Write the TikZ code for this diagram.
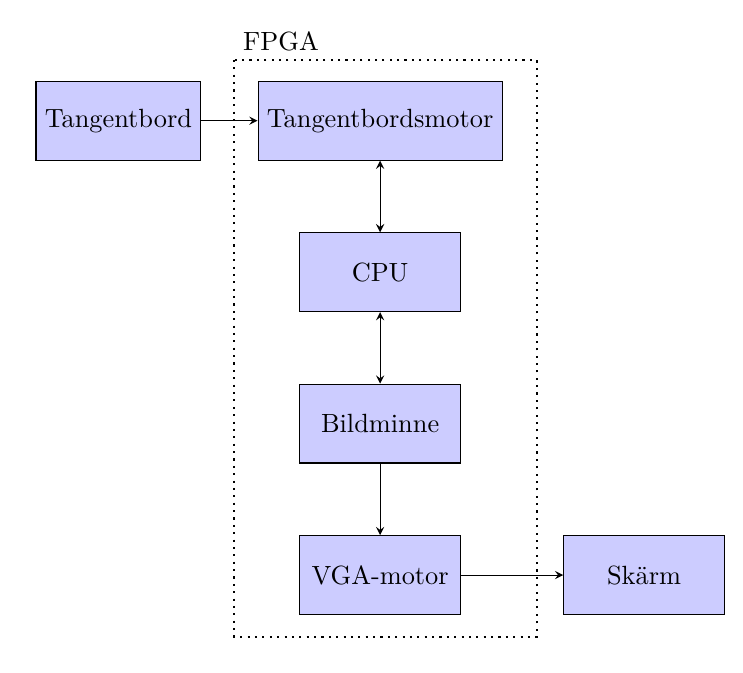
\documentclass[tikz,border=0pt]{standalone}
\usepackage{tikz}
\usetikzlibrary{arrows,positioning}

\begin{document}
\begin{tikzpicture}[
    node distance=2cm,
    block/.style={rectangle, draw, fill=blue!20, minimum height=1.05cm, minimum width=2.14cm, text centered},
    arrow/.style={->, >=stealth}
]
\useasboundingbox (-5.07,-7.36) rectangle (4.84,1.61);

\node[block] (motor) at (0,0) {Tangentbordsmotor};
\node[block, left=0.75cm of motor] (tb) {Tangentbord};
\node[block] (cpu) at (0,-2.02) {CPU};
\node[block] (mem) at (0,-4.04) {Bildminne};
\node[block] (vga) at (0,-6.06) {VGA-motor};
\node[block] (screen) at (3.52,-6.06) {Skärm};

% FPGA-ram
\coordinate (fpganw) at (-1.95,0.81);
\coordinate (fpgase) at (2.09,-6.88);
\draw[thick, dotted] (fpganw) rectangle (fpgase);
\node[anchor=south west] (fpga) at (fpganw) {FPGA};

\draw[arrow] (tb) -- (motor);
\draw[arrow, <->] (motor) -- (cpu);
\draw[arrow, <->] (cpu) -- (mem);
\draw[arrow] (mem) -- (vga);
\draw[arrow] (vga) -- (screen);
\end{tikzpicture}
\end{document}
